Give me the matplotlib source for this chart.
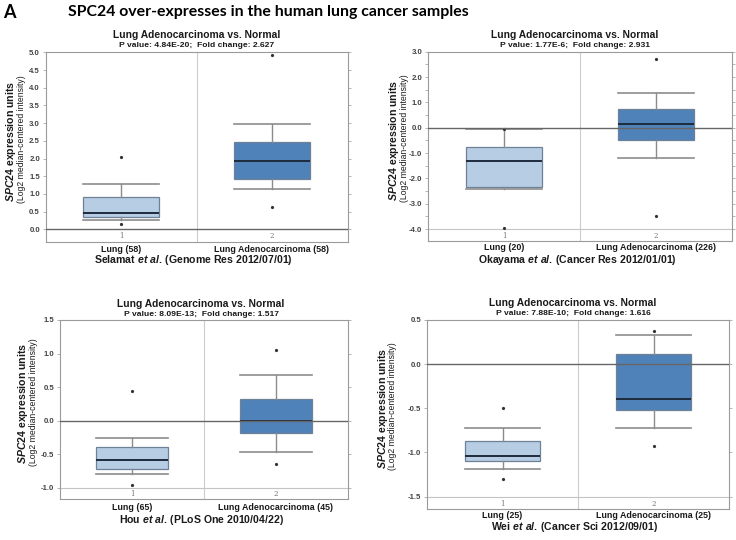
import matplotlib.pyplot as plt
from matplotlib.ticker import MultipleLocator, FormatStrFormatter
from matplotlib.transforms import blended_transform_factory

plt.rcParams['font.family'] = ['Liberation Sans', 'DejaVu Sans']
plt.rcParams['mathtext.fontset'] = 'custom'
plt.rcParams['mathtext.it'] = 'Liberation Sans:italic:bold'
plt.rcParams['mathtext.rm'] = 'Liberation Sans:bold'

groups = ['Lung', 'Lung Adenocarcinoma']

# Selamat et al.
selamat_n = [58, 58]
selamat_whishi = [1.27, 2.97]
selamat_q3 = [0.92, 2.47]
selamat_med = [0.46, 1.93]
selamat_q1 = [0.36, 1.42]
selamat_whislo = [0.26, 1.15]
selamat_fliers = [[2.04, 0.15], [4.92, 0.62]]

# Okayama et al.
okayama_n = [20, 226]
okayama_whishi = [-0.07, 1.36]
okayama_q3 = [-0.78, 0.74]
okayama_med = [-1.30, 0.16]
okayama_q1 = [-2.32, -0.50]
okayama_whislo = [-2.42, -1.21]
okayama_fliers = [[-0.05, -3.95], [2.72, -3.50]]

# Hou et al.
hou_n = [65, 45]
hou_whishi = [-0.25, 0.68]
hou_q3 = [-0.39, 0.32]
hou_med = [-0.58, 0.0]
hou_q1 = [-0.72, -0.19]
hou_whislo = [-0.79, -0.46]
hou_fliers = [[0.44, -0.95], [1.05, -0.65]]

# Wei et al.
wei_n = [25, 25]
wei_whishi = [-0.72, 0.33]
wei_q3 = [-0.87, 0.12]
wei_med = [-1.04, -0.40]
wei_q1 = [-1.10, -0.52]
wei_whislo = [-1.19, -0.72]
wei_fliers = [[-0.50, -1.30], [0.37, -0.93]]

p_values = ['4.84E-20', '1.77E-6', '8.09E-13', '7.88E-10']
fold_changes = ['2.627', '2.931', '1.517', '1.616']
authors = ['Selamat', 'Okayama', 'Hou', 'Wei']
sources = ['Genome Res 2012/07/01', 'Cancer Res 2012/01/01',
           'PLoS One 2010/04/22', 'Cancer Sci 2012/09/01']

W, H = 736, 540
fig = plt.figure(figsize=(W / 100, H / 100), dpi=100)


def fx(px):
    return px / W


def fy(py):
    return 1 - py / H


def panel(rect, n, whishi, q3, med, q1, whislo, fliers, ylim, step, minor,
          k, title_xy, ylab_x, lab_y):
    l, t, r, b = rect
    ax = fig.add_axes([fx(l), fy(b), fx(r) - fx(l), (b - t) / H])
    stats = []
    for i in range(2):
        stats.append(dict(med=med[i], q1=q1[i], q3=q3[i], whislo=whislo[i],
                          whishi=whishi[i], fliers=fliers[i]))
    bp = ax.bxp(stats, positions=[1, 2], widths=0.5, capwidths=0.5,
                patch_artist=True,
                boxprops=dict(edgecolor='#6f8196', linewidth=0.9),
                medianprops=dict(color='#1d2b3d', linewidth=1.4),
                whiskerprops=dict(color='#8c8c8c', linewidth=1.0),
                capprops=dict(color='#8c8c8c', linewidth=1.2),
                flierprops=dict(marker='o', markersize=1.3,
                                markerfacecolor='#333333',
                                markeredgecolor='#333333'))
    bp['boxes'][0].set_facecolor('#b7cde4')
    bp['boxes'][1].set_facecolor('#4f82b9')

    ax.set_xlim(0.5, 2.5)
    ax.set_ylim(*ylim)
    ax.axvline(1.5, color='#cccccc', linewidth=0.8, zorder=0)
    ax.axhline(0, color='#666666', linewidth=1.0, zorder=4)
    lowest = ylim[0] + (step - (ylim[0] % step)) % step
    if lowest != 0:
        ax.axhline(lowest, color='#c4c4c4', linewidth=0.8, zorder=0)

    ax.yaxis.set_major_locator(MultipleLocator(step))
    ax.yaxis.set_major_formatter(FormatStrFormatter('%.1f'))
    if minor:
        ax.yaxis.set_minor_locator(MultipleLocator(minor))
    ax.set_xticks([])
    ax.yaxis.set_ticks_position('both')
    ax.tick_params(axis='y', which='both', direction='out', length=2,
                   width=0.6, color='#aaaaaa', labelsize=5.6,
                   labelcolor='#444444', pad=2)
    ax.tick_params(axis='y', which='both', right=True, labelright=False)
    plt.setp(ax.get_yticklabels(), fontweight='bold')
    for s in ax.spines.values():
        s.set_color('#9a9a9a')
        s.set_linewidth(0.8)

    for i in range(2):
        ax.text(i + 1, 0.028, str(i + 1), transform=blended_transform_factory(
            ax.transData, ax.transAxes), ha='center', va='center',
            fontsize=5, color='#777777', family='DejaVu Serif')

    tx, ty = title_xy
    fig.text(fx(tx), fy(ty), 'Lung Adenocarcinoma vs. Normal', ha='center',
             va='center', fontsize=7.4, fontweight='bold', color='#1a1a1a')
    fig.text(fx(tx), fy(ty + 10.5),
             'P value: %s;  Fold change: %s' % (p_values[k], fold_changes[k]),
             ha='center', va='center', fontsize=6.1, fontweight='bold',
             color='#1a1a1a')

    yc = (t + b) / 2
    fig.text(fx(ylab_x[0]), fy(yc - 6), r'$\mathit{SPC24}$ expression units',
             rotation=90, ha='center', va='center', fontsize=7.6,
             fontweight='bold', color='#1a1a1a')
    fig.text(fx(ylab_x[1]), fy(yc - 8), '(Log2 median-centered intensity)',
             rotation=90, ha='center', va='center', fontsize=6.2,
             color='#1a1a1a')

    tr = blended_transform_factory(ax.transData, fig.transFigure)
    for i in range(2):
        ax.text(i + 1, fy(lab_y[0]), '%s (%d)' % (groups[i], n[i]),
                transform=tr, ha='center', va='center', fontsize=6.4,
                fontweight='bold', color='#1a1a1a')
    fig.text((fx(l) + fx(r)) / 2 - fx(3), fy(lab_y[1]),
             r'%s $\mathit{et\ al.}\,$(%s)' % (authors[k], sources[k]),
             ha='center', va='center', fontsize=7.6, fontweight='bold',
             color='#1a1a1a')
    return ax


panel((45.5, 52.3, 347.5, 241.7), selamat_n, selamat_whishi, selamat_q3,
      selamat_med, selamat_q1, selamat_whislo, selamat_fliers,
      (-0.35, 5.0), 0.5, None, 0, (197, 35), (11.5, 22), (249, 260))
panel((428, 51.7, 732, 241), okayama_n, okayama_whishi, okayama_q3,
      okayama_med, okayama_q1, okayama_whislo, okayama_fliers,
      (-4.47, 3.0), 1.0, 0.5, 1, (575, 35), (394, 404.5), (248, 260))
panel((60, 320, 348, 499.3), hou_n, hou_whishi, hou_q3,
      hou_med, hou_q1, hou_whislo, hou_fliers,
      (-1.17, 1.5), 0.5, None, 2, (201, 304), (23.5, 34), (507, 520))
panel((427, 320, 729, 509), wei_n, wei_whishi, wei_q3,
      wei_med, wei_q1, wei_whislo, wei_fliers,
      (-1.64, 0.5), 0.5, None, 3, (573, 303), (382.5, 393), (516, 527))

fig.text(fx(3), fy(12), 'A', ha='left', va='center', fontsize=13,
         fontweight='bold', family=['Lato', 'DejaVu Sans'])
fig.text(fx(68), fy(12), 'SPC24 over-expresses in the human lung cancer samples',
         ha='left', va='center', fontsize=11.4, fontweight='bold',
         family=['Lato', 'DejaVu Sans'])

fig.savefig('out.png', dpi=100)
